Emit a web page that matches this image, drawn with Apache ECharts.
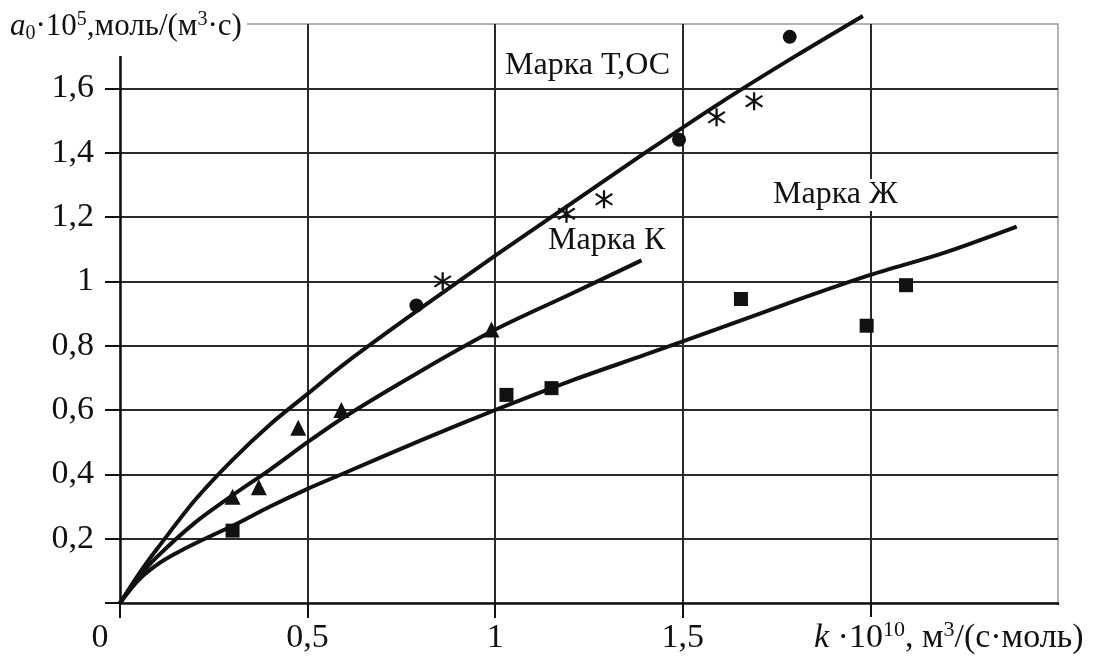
<!DOCTYPE html>
<html><head><meta charset="utf-8">
<script src="https://cdn.jsdelivr.net/npm/echarts@6/dist/echarts.min.js"></script>
<style>html,body{margin:0;padding:0;background:#fff}#c{width:1097px;height:666px}</style>
</head><body><div id="c"></div>
<script>
// ---- data ----
const xTickLabels = ['0', '0,5', '1', '1,5', '2', ''];
const yTickLabels = ['', '0,2', '0,4', '0,6', '0,8', '1', '1,2', '1,4', '1,6', ''];

// fitted curves
const curveTOSx = [0, 0.05, 0.1, 0.2, 0.3, 0.4, 0.5, 0.6, 0.8, 1.0, 1.2, 1.4, 1.6, 1.8, 1.98];
const curveTOSy = [0, 0.09, 0.17, 0.32, 0.445, 0.555, 0.65, 0.745, 0.915, 1.08, 1.24, 1.40, 1.555, 1.70, 1.825];
const curveKx = [0, 0.05, 0.1, 0.2, 0.3, 0.4, 0.5, 0.6, 0.8, 1.0, 1.2, 1.39];
const curveKy = [0, 0.08, 0.145, 0.25, 0.335, 0.415, 0.50, 0.58, 0.72, 0.85, 0.96, 1.065];
const curveZhx = [0, 0.05, 0.1, 0.15, 0.2, 0.3, 0.4, 0.5, 0.6, 0.8, 1.0, 1.2, 1.4, 1.6, 1.8, 2.0, 2.2, 2.39];
const curveZhy = [0, 0.072, 0.12, 0.155, 0.185, 0.24, 0.30, 0.355, 0.405, 0.505, 0.60, 0.69, 0.772, 0.855, 0.94, 1.02, 1.09, 1.17];

// experimental points
const circlesTOS = [[0.79, 0.925], [1.49, 1.44], [1.785, 1.76]];
const starsTOS = [[0.86, 1.0], [1.19, 1.21], [1.29, 1.255], [1.59, 1.51], [1.69, 1.56]];
const trianglesK = [[0.30, 0.33], [0.37, 0.36], [0.475, 0.545], [0.59, 0.60], [0.99, 0.85]];
const squaresZh = [[0.30, 0.225], [1.03, 0.647], [1.15, 0.668], [1.655, 0.945], [1.99, 0.862], [2.095, 0.988]];

const labelTOS = 'Марка Т,ОС';
const labelK = 'Марка К';
const labelZh = 'Марка Ж';

// ---- chart ----
const FONT = 'Liberation Serif';
const INK = '#111';
const zip = (xs, ys) => xs.map((x, i) => [x, ys[i]]);
const starPath = 'path://M8.9 0L11.1 0L11.1 20L8.9 20Z M2.66 3.12L18.66 15.12L17.34 16.88L1.34 4.88Z M1.34 15.12L17.34 3.12L18.66 4.88L2.66 16.88Z';

const curveStyle = { color: INK, width: 4 };
function curve(xs, ys) {
  return { type: 'line', data: zip(xs, ys), smooth: 0.3, symbol: 'none', clip: false,
           lineStyle: curveStyle, z: 5, silent: true };
}
function pts(data, symbol, size) {
  return { type: 'scatter', data, symbol, symbolSize: size, itemStyle: { color: INK, opacity: 1 }, z: 6, silent: true };
}

const chart = echarts.init(document.getElementById('c'), null, { renderer: 'canvas' });
const option = {
  backgroundColor: '#fff',
  animation: false,
  grid: { left: 120, right: 39, top: 24, bottom: 63, show: true, borderColor: '#9a9a9a', borderWidth: 1.5, backgroundColor: 'transparent' },
  xAxis: {
    type: 'value', min: 0, max: 2.5, interval: 0.5,
    axisLine: { show: true, onZero: false, lineStyle: { color: INK, width: 2.5 } },
    axisTick: { show: true, inside: false, length: 15, lineStyle: { color: INK, width: 2 } },
    axisLabel: {
      margin: 18, color: INK, fontFamily: FONT, fontSize: 34,
      formatter: (v) => { const i = Math.round(v / 0.5); return i === 0 ? '{z|0}' : xTickLabels[i]; },
      rich: { z: { fontFamily: FONT, fontSize: 34, color: INK, padding: [0, 40, 0, 0] } }
    },
    splitLine: { show: true, showMinLine: false, showMaxLine: false, lineStyle: { color: '#2a2a2a', width: 2 } }
  },
  yAxis: {
    type: 'value', min: 0, max: 1.8, interval: 0.2,
    axisLine: { show: true, onZero: false, lineStyle: { color: INK, width: 2.5 } },
    axisTick: { show: true, inside: false, length: 15, lineStyle: { color: INK, width: 2 } },
    axisLabel: {
      margin: 26, color: INK, fontFamily: FONT, fontSize: 34,
      formatter: (v) => yTickLabels[Math.round(v / 0.2)]
    },
    splitLine: { show: true, showMinLine: false, showMaxLine: false, lineStyle: { color: '#2a2a2a', width: 2 } }
  },
  series: [
    curve(curveTOSx, curveTOSy),
    curve(curveKx, curveKy),
    curve(curveZhx, curveZhy),
    pts(circlesTOS, 'circle', 14),
    pts(starsTOS, starPath, 18),
    pts(trianglesK, 'triangle', 16),
    pts(squaresZh, 'rect', 14)
  ],
  graphic: [
    // hides the tick at the unlabeled right end of the x axis
    { type: 'rect', shape: { x: 1052, y: 605, width: 14, height: 18 }, style: { fill: '#fff' }, z: 90 },
    { type: 'text', left: 6, top: 8, z: 100,
      style: {
        text: '{i|a}{sub|0}{n|·10}{sup|5}{n|,моль/(м}{sup|3}{n|·с)}',
        backgroundColor: '#fff', padding: [2, 5, 12, 4],
        rich: {
          i: { fontFamily: FONT, fontStyle: 'italic', fontSize: 31, fill: INK, lineHeight: 34 },
          n: { fontFamily: FONT, fontSize: 31, fill: INK, lineHeight: 34 },
          sub: { fontFamily: FONT, fontSize: 20, fill: INK, verticalAlign: 'bottom', lineHeight: 34 },
          sup: { fontFamily: FONT, fontSize: 20, fill: INK, verticalAlign: 'top', lineHeight: 34 }
        }
      } },
    { type: 'text', left: 812, top: 617, z: 100,
      style: {
        text: '{i|k}{n| ·10}{sup|10}{n|, м}{sup|3}{n|/(с·моль)}',
        backgroundColor: '#fff', padding: [2, 2, 2, 2],
        rich: {
          i: { fontFamily: FONT, fontStyle: 'italic', fontSize: 34, fill: INK, lineHeight: 38 },
          n: { fontFamily: FONT, fontSize: 34, fill: INK, lineHeight: 38 },
          sup: { fontFamily: FONT, fontSize: 22, fill: INK, verticalAlign: 'top', lineHeight: 38 }
        }
      } },
    { type: 'text', left: 502, top: 50, z: 100,
      style: { text: labelTOS, fontFamily: FONT, fontSize: 32, fill: INK, backgroundColor: '#fff', padding: [0, 3, 0, 3] } },
    { type: 'text', left: 545, top: 225, z: 100,
      style: { text: labelK, fontFamily: FONT, fontSize: 32, fill: INK, backgroundColor: '#fff', padding: [0, 3, 0, 3] } },
    { type: 'text', left: 770, top: 179, z: 100,
      style: { text: labelZh, fontFamily: FONT, fontSize: 32, fill: INK, backgroundColor: '#fff', padding: [0, 3, 0, 3] } }
  ]
};
chart.setOption(option);
</script>
</body></html>
